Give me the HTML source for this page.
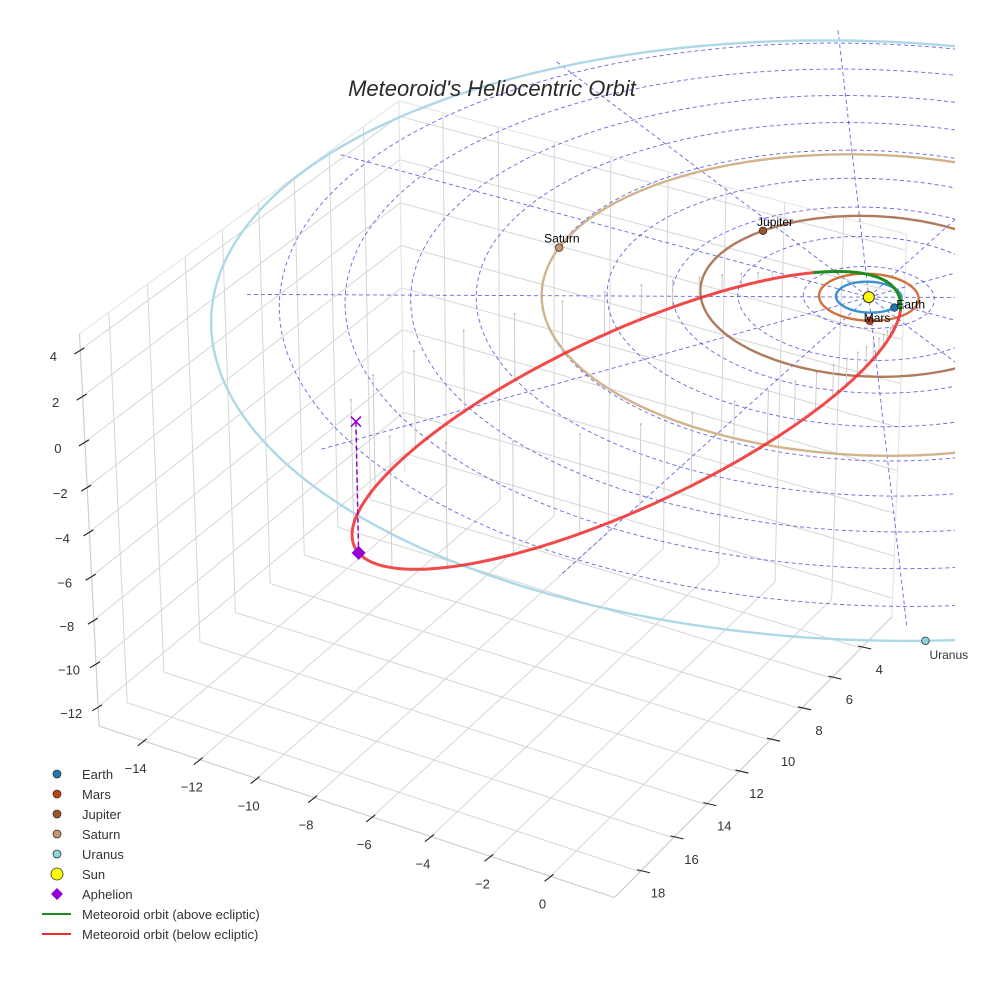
<!DOCTYPE html>
<html><head><meta charset="utf-8"><style>
html,body{margin:0;padding:0;background:#fff;width:984px;height:984px;overflow:hidden;font-family:"Liberation Sans",sans-serif}
svg{display:block}
</style></head><body>
<svg id="chart" width="984" height="984" viewBox="0 0 984 984" xmlns="http://www.w3.org/2000/svg">
<defs><clipPath id="sceneclip"><rect x="0" y="0" width="955" height="984"/></clipPath></defs>
<rect width="984" height="984" fill="#fff"/>
<g id="scene" clip-path="url(#sceneclip)"></g>
<g id="axes"></g>
<text x="492" y="96" text-anchor="middle" font-size="22" font-style="italic" fill="#2a2a2a">Meteoroid's Heliocentric Orbit</text>
<g id="legend"></g>
</svg>
<script>
// ---- data ----
const xTicks = [-14,-12,-10,-8,-6,-4,-2,0];
const yTicks = [4,6,8,10,12,14,16,18];
const zTicks = [-12,-10,-8,-6,-4,-2,0,2,4];
const xRange = [-15.6, 2.1];
const yRange = [1.9, 19.5];
const zRange = [-12.9, 4.7];
const planetNames = ["Earth","Mars","Jupiter","Saturn","Uranus"];
const planetSemiMajor = [1.0, 1.52, 5.2, 10.0, 19.8];
const planetSemiMinor = [1.0, 1.52, 5.2, 9.7, 19.0];
const orbitAxisDeg = [150, 150, 150, 150, 150];
const orbitCenterX = [0, 0, -0.05, 0, 0.2];
const orbitCenterY = [0, 0, -0.2, 0, 0.8];
const planetAngleDeg = [12, 62, 203, 169, 58];
const planetColors = ["#1f77b4","#c1440e","#a0522d","#c8956b","#8fd3e0"];
const orbitColors = ["#3a92cf","#d2703e","#b07a5c","#d2b48c","#add8e6"];
const gridRadii = [2,4,6,8,10,12,14,16,18];
const radialAnglesDeg = [0,30,60,90,120,150];
const radialLength = 19;
// meteoroid orbital description
const meteoroidPerihelion = [0.85];
const meteoroidAphelion = [18.28];
const aphelionLongitudeDeg = [123.1];
const aphelionLatitudeDeg = [-18.8];
const nodeLongitudeDeg = [14];

// ---- camera calibration (3D scene -> screen) ----
const calib = [
 [-14,19.5,-12.9,143,741],[-8,19.5,-12.9,314,797],[0,19.5,-12.9,553,874],
 [2.1,18,-12.9,640,873],[2.1,10,-12.9,770,742],[2.1,4,-12.9,860,649],
 [-15.6,19.5,4,80,351],[-15.6,19.5,0,85,442],[-15.6,19.5,-12,98,706],
 [0,0,0,868,295],[-15.59,9,0,277,295],
 [-15.6,1.9,4,400,117],[-15.6,1.9,0,403,202]
];
function solveDLT(){
  const rows=[],b=[];
  for(const c of calib){
    const X=c[0]/20,Y=c[1]/20,Z=c[2]/20,u=(c[3]-500)/500,v=(c[4]-500)/500;
    rows.push([X,Y,Z,1,0,0,0,0,-u*X,-u*Y,-u*Z]);b.push(u);
    rows.push([0,0,0,0,X,Y,Z,1,-v*X,-v*Y,-v*Z]);b.push(v);
  }
  const n=11,M=[];
  for(let i=0;i<n;i++){M.push(new Array(n+1).fill(0));}
  for(let r=0;r<rows.length;r++){
    for(let i=0;i<n;i++){
      for(let j=0;j<n;j++)M[i][j]+=rows[r][i]*rows[r][j];
      M[i][n]+=rows[r][i]*b[r];
    }
  }
  for(let i=0;i<n;i++){
    let p=i;for(let k=i+1;k<n;k++)if(Math.abs(M[k][i])>Math.abs(M[p][i]))p=k;
    [M[i],M[p]]=[M[p],M[i]];
    for(let k=0;k<n;k++){if(k===i)continue;const f=M[k][i]/M[i][i];for(let j=i;j<=n;j++)M[k][j]-=f*M[i][j];}
  }
  return M.map((r,i)=>r[n]/r[i]);
}
const P=solveDLT();
function proj(X,Y,Z){
  X/=20;Y/=20;Z/=20;
  const d=P[8]*X+P[9]*Y+P[10]*Z+1;
  const u=(P[0]*X+P[1]*Y+P[2]*Z+P[3])/d, v=(P[4]*X+P[5]*Y+P[6]*Z+P[7])/d;
  return [u*500+500,v*500+500];
}
const NS="http://www.w3.org/2000/svg";
const scene=document.getElementById('scene'), axes=document.getElementById('axes'), legend=document.getElementById('legend');
function mk(tag,attrs,parent){const e=document.createElementNS(NS,tag);for(const k in attrs)e.setAttribute(k,attrs[k]);parent.appendChild(e);return e;}
function poly(pts){return pts.map((p,i)=>(i?'L':'M')+p[0].toFixed(1)+','+p[1].toFixed(1)).join('');}
function line3(a,b,style,parent,name){
  const e=mk('path',Object.assign({d:poly([proj(...a),proj(...b)]),fill:'none'},style),parent);
  
  
  return e;
}
const [x0,x1]=xRange,[y0,y1]=yRange,[z0,z1]=zRange;
const gstyle={stroke:'#d6d6d6','stroke-width':1};
for(const x of xTicks) line3([x,y0,z0],[x,y1,z0],gstyle,scene,'floor-grid-x');
for(const y of yTicks) line3([x0,y,z0],[x1,y,z0],gstyle,scene,'floor-grid-y');
for(const z of zTicks) line3([x0,y0,z],[x0,y1,z],gstyle,scene,'wall-grid-z');
for(const y of yTicks) line3([x0,y,z0],[x0,y,z1],gstyle,scene,'wall-grid-y');
for(const z of zTicks) line3([x0,y0,z],[x1,y0,z],gstyle,scene,'back-wall-grid-z');
for(const x of xTicks) line3([x,y0,z0],[x,y0,z1],gstyle,scene,'back-wall-grid-x');
const estyle={stroke:'#e6e6e6','stroke-width':1.2};
line3([x0,y1,z1],[x0,y0,z1],estyle,scene,'box-edge');
line3([x0,y0,z1],[x1,y0,z1],estyle,scene,'box-edge');
line3([x0,y0,z0],[x0,y0,z1],estyle,scene,'box-edge');
line3([x1,y0,z0],[x1,y0,z1],estyle,scene,'box-edge');
const fstyle={stroke:'#cfcfcf','stroke-width':1.2};
line3([x0,y1,z0],[x1,y1,z0],fstyle,scene,'x-axis-line');
line3([x1,y1,z0],[x1,y0,z0],fstyle,scene,'y-axis-line');
line3([x0,y1,z0],[x0,y1,z1],fstyle,scene,'z-axis-line');

function circlePts(r,n){const pts=[];for(let i=0;i<=n;i++){const t=i/n*2*Math.PI;pts.push(proj(r*Math.cos(t),r*Math.sin(t),0));}return pts;}
function ellPt(i,t){
  const ph=orbitAxisDeg[i]*Math.PI/180, A=planetSemiMajor[i], B=planetSemiMinor[i];
  const ca=A*Math.cos(t-ph), sb=B*Math.sin(t-ph);
  return proj(orbitCenterX[i]+ca*Math.cos(ph)-sb*Math.sin(ph), orbitCenterY[i]+ca*Math.sin(ph)+sb*Math.cos(ph), 0);
}
const dstyle={fill:'none',stroke:'#4b4bdc','stroke-width':0.9,'stroke-dasharray':'4,3',opacity:0.85};
for(const r of gridRadii){
  const e=mk('path',Object.assign({d:poly(circlePts(r,180))},dstyle),scene);
  
  
}
for(const a of radialAnglesDeg){
  const t=a*Math.PI/180;
  const e=mk('path',Object.assign({d:poly([proj(-radialLength*Math.cos(t),-radialLength*Math.sin(t),0),proj(radialLength*Math.cos(t),radialLength*Math.sin(t),0)])},dstyle),scene);
  
  
}
planetNames.forEach((nm,i)=>{
  const pts=[];for(let k=0;k<=240;k++)pts.push(ellPt(i,k/240*2*Math.PI));
  const e=mk('path',{d:poly(pts),fill:'none',stroke:orbitColors[i],'stroke-width':2.4},scene);
  
  
});

// meteoroid orbit
const d2r=Math.PI/180;
const q=meteoroidPerihelion[0],Q=meteoroidAphelion[0];
const a=(q+Q)/2,ecc=(Q-q)/(Q+q),pp=a*(1-ecc*ecc);
const lA=aphelionLongitudeDeg[0]*d2r,bA=aphelionLatitudeDeg[0]*d2r;
const A=[Math.cos(bA)*Math.cos(lA),Math.cos(bA)*Math.sin(lA),Math.sin(bA)];
const nd=[Math.cos(nodeLongitudeDeg[0]*d2r),Math.sin(nodeLongitudeDeg[0]*d2r),0];
function cross(u,v){return [u[1]*v[2]-u[2]*v[1],u[2]*v[0]-u[0]*v[2],u[0]*v[1]-u[1]*v[0]];}
function norm(u){const l=Math.hypot(...u);return u.map(c=>c/l);}
const Pd=A.map(c=>-c);
const N=norm(cross(nd,A));
const Qd=norm(cross(N,Pd));
function orbitPt(nu){const r=pp/(1+ecc*Math.cos(nu));return [0,1,2].map(k=>r*(Math.cos(nu)*Pd[k]+Math.sin(nu)*Qd[k]));}
const mpts=[];for(let i=0;i<=720;i++)mpts.push(orbitPt(i/720*2*Math.PI));
for(let i=0;i<720;i+=8){
  const p=mpts[i];
  if(p[2]<-0.3){
    const top=proj(p[0],p[1],0),bot=proj(p[0],p[1],p[2]);
    const s=mk('path',{d:poly([top,bot]),stroke:'#c8c8c8','stroke-width':0.9,fill:'none'},scene);
    
    
    const c=mk('circle',{cx:top[0],cy:top[1],r:1,fill:'#bbb'},scene);
    
    
  }
}
let seg=[],segAbove=null;
function flush(){
  if(seg.length>1){
    const e=mk('path',{d:poly(seg.map(p=>proj(...p))),fill:'none',stroke:segAbove?'#1e8c1e':'#ee2a2a','stroke-width':3,'stroke-linejoin':'round',opacity:segAbove?1:0.85},scene);
    
    
  }
}
for(const p of mpts){
  const ab=p[2]>=0;
  if(segAbove===null)segAbove=ab;
  if(ab!==segAbove){seg.push(p);flush();seg=[seg[seg.length-1]];segAbove=ab;}
  else seg.push(p);
}
flush();
const aph=orbitPt(Math.PI);
const aTop=proj(aph[0],aph[1],0),aBot=proj(aph[0],aph[1],aph[2]);
let e=mk('path',{d:poly([aTop,aBot]),stroke:'#9400d3','stroke-width':1.5,'stroke-dasharray':'5,3',fill:'none'},scene);


e=mk('path',{d:`M${aTop[0]-5},${aTop[1]-5}L${aTop[0]+5},${aTop[1]+5}M${aTop[0]-5},${aTop[1]+5}L${aTop[0]+5},${aTop[1]-5}`,stroke:'#9400d3','stroke-width':1.6},scene);


e=mk('path',{d:`M${aBot[0]},${aBot[1]-7}L${aBot[0]+7},${aBot[1]}L${aBot[0]},${aBot[1]+7}L${aBot[0]-7},${aBot[1]}Z`,fill:'#9400d3'},scene);



const sp=proj(0,0,0);
e=mk('circle',{cx:sp[0],cy:sp[1],r:5.5,fill:'#ffff00',stroke:'#333','stroke-width':1},scene);


const labelOff=[[2,1],[-6,1],[-6,-5],[-15,-5],[4,18]];
planetNames.forEach((nm,i)=>{
  const p=ellPt(i,planetAngleDeg[i]*d2r);
  const c=mk('circle',{cx:p[0],cy:p[1],r:3.8,fill:planetColors[i],stroke:'#333','stroke-width':0.8},axes);
  
  
  const tx=mk('text',{x:p[0]+labelOff[i][0],y:p[1]+labelOff[i][1],'font-size':12,fill:i===4?'#333':'#000'},axes);
  tx.textContent=nm;
  
  
});

const tstyle={stroke:'#222','stroke-width':1.1};
for(const x of xTicks){
  const p=proj(x,y1,z0);
  const t=mk('path',Object.assign({d:`M${p[0]-6},${p[1]+5}L${p[0]+3},${p[1]-2}`},tstyle),axes);
  
  
  const l=mk('text',{x:p[0]-8,y:p[1]+32,'text-anchor':'middle','font-size':13,fill:'#333'},axes);
  l.textContent=x<0?'\u2212'+(-x):String(x);
  
  
}
for(const y of yTicks){
  const p=proj(x1,y,z0);
  const t=mk('path',Object.assign({d:`M${p[0]-3},${p[1]-2}L${p[0]+10},${p[1]+1}`},tstyle),axes);
  
  
  const l=mk('text',{x:p[0]+18,y:p[1]+26,'text-anchor':'middle','font-size':13,fill:'#333'},axes);
  l.textContent=String(y);
  
  
}
for(const z of zTicks){
  const p=proj(x0,y1,z);
  const t=mk('path',Object.assign({d:`M${p[0]-6},${p[1]+4}L${p[0]+4},${p[1]-2}`},tstyle),axes);
  
  
  const l=mk('text',{x:p[0]-27,y:p[1]+11,'text-anchor':'middle','font-size':13,fill:'#333'},axes);
  l.textContent=z<0?'\u2212'+(-z):String(z);
  
  
}

const legItems=[
 ['Earth','dot','#1f77b4'],['Mars','dot','#c1440e'],['Jupiter','dot','#a0522d'],['Saturn','dot','#c8956b'],
 ['Uranus','dot','#8fd3e0'],['Sun','sun','#ffff00'],['Aphelion','diamond','#9400d3'],
 ['Meteoroid orbit (above ecliptic)','line','#1e8c1e'],['Meteoroid orbit (below ecliptic)','line','#ee2a2a']
];
legItems.forEach((it,i)=>{
  const y=774+i*20;
  const g=mk('g',{},legend);
  
  
  if(it[1]==='dot')mk('circle',{cx:57,cy:y,r:4,fill:it[2],stroke:'#333','stroke-width':0.8},g);
  else if(it[1]==='sun')mk('circle',{cx:57,cy:y,r:6,fill:it[2],stroke:'#333','stroke-width':0.8},g);
  else if(it[1]==='diamond')mk('path',{d:`M57,${y-6}L63,${y}L57,${y+6}L51,${y}Z`,fill:it[2]},g);
  else mk('path',{d:`M42,${y}L71,${y}`,stroke:it[2],'stroke-width':2},g);
  const t=mk('text',{x:82,y:y+5,'font-size':13,fill:'#333'},g);
  t.textContent=it[0];
});
</script>
</body></html>
